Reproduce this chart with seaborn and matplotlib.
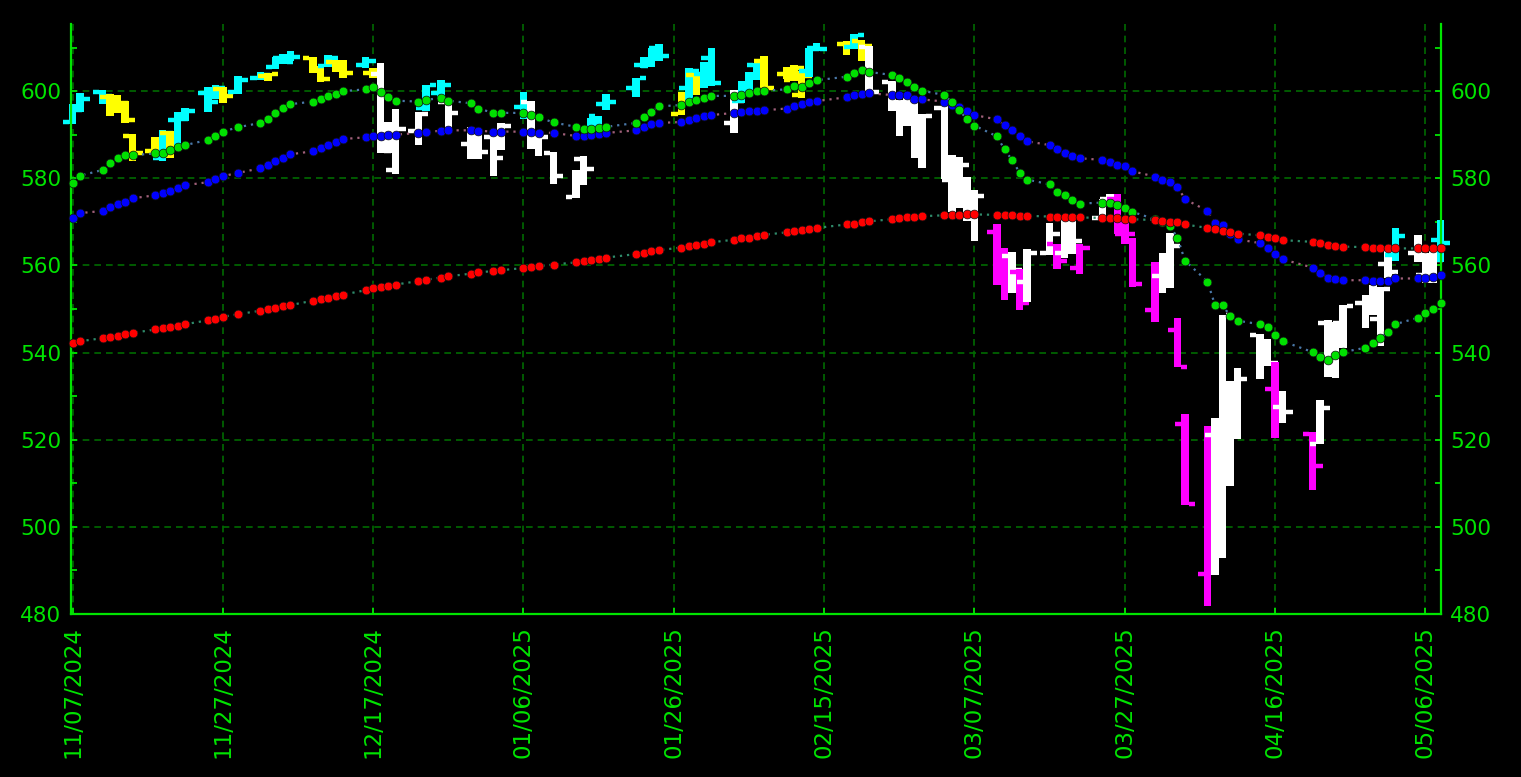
import matplotlib
matplotlib.use("Agg")
import matplotlib.pyplot as plt
import numpy as np
import pandas as pd
import seaborn as sns

# ---------------- data ----------------
dates = [
    "11/07/2024", "11/08/2024", "11/11/2024", "11/12/2024", "11/13/2024", "11/14/2024", "11/15/2024",
    "11/18/2024", "11/19/2024", "11/20/2024", "11/21/2024", "11/22/2024", "11/25/2024", "11/26/2024",
    "11/27/2024", "11/29/2024",
    "12/02/2024", "12/03/2024", "12/04/2024", "12/05/2024", "12/06/2024", "12/09/2024", "12/10/2024",
    "12/11/2024", "12/12/2024", "12/13/2024", "12/16/2024", "12/17/2024", "12/18/2024", "12/19/2024",
    "12/20/2024", "12/23/2024", "12/24/2024", "12/26/2024", "12/27/2024", "12/30/2024", "12/31/2024",
    "01/02/2025", "01/03/2025", "01/06/2025", "01/07/2025", "01/08/2025", "01/10/2025", "01/13/2025",
    "01/14/2025", "01/15/2025", "01/16/2025", "01/17/2025", "01/21/2025", "01/22/2025", "01/23/2025",
    "01/24/2025", "01/27/2025", "01/28/2025", "01/29/2025", "01/30/2025", "01/31/2025",
    "02/03/2025", "02/04/2025", "02/05/2025", "02/06/2025", "02/07/2025", "02/10/2025", "02/11/2025",
    "02/12/2025", "02/13/2025", "02/14/2025", "02/18/2025", "02/19/2025", "02/20/2025", "02/21/2025",
    "02/24/2025", "02/25/2025", "02/26/2025", "02/27/2025", "02/28/2025",
    "03/03/2025", "03/04/2025", "03/05/2025", "03/06/2025", "03/07/2025", "03/10/2025", "03/11/2025",
    "03/12/2025", "03/13/2025", "03/14/2025", "03/17/2025", "03/18/2025", "03/19/2025", "03/20/2025",
    "03/21/2025", "03/24/2025", "03/25/2025", "03/26/2025", "03/27/2025", "03/28/2025", "03/31/2025",
    "04/01/2025", "04/02/2025", "04/03/2025", "04/04/2025", "04/07/2025", "04/08/2025", "04/09/2025",
    "04/10/2025", "04/11/2025", "04/14/2025", "04/15/2025", "04/16/2025", "04/17/2025", "04/21/2025",
    "04/22/2025", "04/23/2025", "04/24/2025", "04/25/2025", "04/28/2025", "04/29/2025", "04/30/2025",
    "05/01/2025", "05/02/2025", "05/05/2025", "05/06/2025", "05/07/2025", "05/08/2025",
]

opens = [
    592.9, 596.2, 599.8, 598.7, 597.4, 597.3, 589.7, 586.2, 584.7, 590.4, 593.4, 593.7, 599.5, 598.8, 600.5, 599.7,
    603.0, 603.4, 605.6, 607.7, 607.4, 607.7, 605.4, 605.8, 606.6, 606.4, 606.0, 604.2, 604.0, 591.4, 581.8,
    590.9, 596.1, 599.5, 597.5, 587.9, 589.9,
    589.4, 587.5, 596.3, 597.4, 588.7, 585.9, 575.8, 584.4, 590.3, 594.2, 597.0, 600.7, 605.9, 605.8, 609.8,
    594.8, 600.6, 603.7, 604.0, 607.5,
    592.7, 597.8, 600.6, 606.0, 606.9, 604.0, 602.6, 599.2, 604.5, 609.9, 610.9, 610.1, 611.5, 610.2,
    602.0, 597.2, 595.9, 596.9, 585.6,
    596.2, 579.7, 576.7, 575.5, 570.9, 567.6, 559.4, 562.2, 558.5, 556.1, 562.8, 564.8, 562.8, 563.3,
    559.3, 570.8, 575.3, 575.2, 567.2, 565.5, 549.8,
    557.5, 555.1, 545.1, 523.7, 489.2, 521.0, 493.4, 532.2, 523.0, 544.1, 539.7, 531.7, 527.6, 521.2,
    519.1, 546.7, 536.0, 546.7, 551.4, 548.9, 547.6,
    560.4, 562.5, 562.9, 557.7, 560.0, 565.9,
]
highs = [
    597.0, 599.6, 600.2, 599.3, 599.2, 597.8, 590.2, 589.5, 591.0, 590.8, 595.1, 596.2, 600.9, 601.3, 600.9, 603.4,
    604.3, 604.2, 607.9, 608.5, 609.1, 607.9, 605.8, 608.4, 607.2, 607.2, 607.8, 605.2, 606.4, 593.0, 595.8,
    595.3, 601.3, 602.5, 597.8, 591.7, 590.6,
    591.1, 592.6, 599.7, 597.8, 590.6, 586.0, 581.8, 585.0, 593.9, 594.4, 599.4, 603.1, 607.8, 609.8, 610.8,
    599.7, 605.4, 604.1, 606.6, 610.0,
    600.3, 602.3, 604.4, 606.5, 608.1, 605.5, 605.9, 604.6, 609.9, 611.0, 611.5, 613.2, 611.7, 610.3,
    602.4, 597.9, 599.6, 598.0, 594.7,
    597.3, 585.4, 584.9, 580.2, 577.4, 569.5, 564.0, 563.1, 559.1, 563.8, 569.7, 565.0, 571.0, 570.6,
    564.9, 575.2, 576.4, 576.3, 570.9, 566.3, 560.7,
    562.9, 567.4, 548.0, 525.9, 523.2, 525.0, 548.6, 533.5, 536.4, 544.3, 543.2, 537.9, 531.2, 521.7,
    529.0, 547.5, 546.9, 550.8, 553.1, 555.5, 555.0,
    564.0, 568.5, 566.9, 562.9, 563.4, 570.4,
]
lows = [
    592.4, 595.2, 597.0, 594.4, 595.0, 592.7, 583.9, 585.3, 584.0, 584.6, 587.5, 593.2, 595.2, 598.1, 597.3, 599.4,
    602.5, 602.3, 605.0, 606.3, 607.0, 604.1, 602.1, 605.5, 604.3, 602.9, 605.2, 602.9, 585.9, 585.9, 580.9,
    587.7, 595.5, 598.1, 590.8, 584.4, 584.4,
    580.5, 586.4, 593.6, 586.8, 585.2, 578.6, 575.4, 578.4, 589.2, 590.9, 595.6, 598.7, 605.4, 605.5, 606.8,
    594.6, 597.3, 599.2, 600.7, 601.1,
    590.5, 597.3, 598.6, 602.6, 600.1, 602.7, 602.4, 598.5, 603.2, 609.1, 608.4, 609.6, 606.9, 599.5,
    595.5, 589.6, 591.9, 584.7, 582.4,
    579.9, 572.3, 573.1, 570.1, 565.6, 555.6, 552.0, 553.7, 549.7, 551.5, 562.4, 559.1, 561.6, 562.6,
    558.0, 570.2, 573.7, 567.2, 564.9, 555.1, 546.9,
    553.7, 554.8, 536.7, 505.1, 481.8, 489.0, 492.8, 509.3, 520.1, 533.9, 537.0, 520.3, 523.9, 508.5,
    518.9, 534.3, 534.1, 541.0, 545.6, 548.6, 541.5,
    557.2, 561.0, 560.7, 556.0, 556.0, 560.7,
]
closes = [
    595.6, 598.2, 598.8, 596.9, 597.2, 593.4, 585.8, 588.2, 590.3, 590.5, 593.7, 595.5, 597.5, 600.7, 598.8, 602.6,
    603.6, 603.9, 607.7, 606.7, 607.8, 604.7, 602.8, 607.5, 604.3, 604.2, 606.8, 604.3, 586.3, 586.1, 591.2,
    594.7, 601.3, 601.3, 595.0, 588.2, 586.1,
    584.6, 592.0, 595.4, 588.6, 589.5, 580.5, 581.4, 582.2, 592.8, 591.6, 597.6, 603.1, 606.4, 609.8, 608.0,
    599.4, 604.5, 601.8, 605.0, 601.8,
    597.8, 601.8, 604.2, 606.3, 600.8, 604.9, 605.3, 603.4, 609.7, 609.7, 611.5, 612.9, 610.4, 599.9,
    597.2, 594.2, 594.5, 585.1, 594.2,
    583.8, 576.9, 583.1, 572.7, 575.9, 560.6, 555.9, 558.9, 551.4, 562.8, 567.2, 561.0, 567.1, 565.5,
    564.0, 574.1, 575.5, 568.6, 567.1, 555.7, 559.4,
    561.0, 564.5, 536.7, 505.3, 504.4, 496.5, 548.6, 524.6, 533.9, 539.1, 537.6, 525.7, 526.4, 513.9,
    527.3, 535.4, 546.7, 550.6, 550.9, 554.3, 554.5,
    558.5, 566.8, 563.5, 558.8, 561.2, 565.1,
]
# bar colour class: C = cyan, Y = yellow, W = white, M = magenta
bar_class = (
    list("CCCYYYYYCYCCCCYC")
    + list("CYCCCYYCYYCYWWWWCCWWW")
    + list("WWCWWWWWCCCCCCCYCYCC")
    + list("WCCCYYYYCCYCYWWWWWW")
    + list("WWWWWMMWMWWMWWMWWMMMM")
    + list("WWMMMWWWWWWMWMWWWWWWW")
    + list("WCWWWC")
)

ma20 = [
    578.8, 580.6, 581.9, 583.4, 584.6, 585.3, 585.3, 585.7, 585.9, 586.5, 587.1, 587.6, 588.8, 589.8, 590.7, 591.7,
    592.7, 593.5, 594.9, 596.1, 597.0, 597.6, 598.1, 598.9, 599.3, 600.0, 600.4, 600.9, 599.7, 598.7, 597.8,
    597.6, 598.0, 598.4, 597.8, 597.2, 596.0,
    595.0, 595.0, 595.0, 594.5, 594.0, 592.8, 591.8, 591.2, 591.2, 591.6, 591.8, 592.7, 594.0, 595.3, 596.5,
    596.8, 597.6, 598.0, 598.4, 598.9,
    598.9, 599.1, 599.5, 600.0, 600.1, 600.4, 601.2, 601.0, 601.8, 602.5, 603.3, 604.2, 604.8, 604.4,
    603.7, 602.9, 602.2, 601.0, 600.1,
    599.1, 597.4, 595.6, 593.5, 592.1, 589.6, 586.6, 584.2, 581.3, 579.7, 578.6, 576.9, 576.1, 575.1,
    574.2, 574.4, 574.4, 573.8, 573.2, 572.3, 570.6,
    570.0, 569.0, 566.4, 561.1, 556.3, 550.9, 550.9, 548.4, 547.3, 546.5, 545.9, 544.0, 542.6, 540.1,
    539.0, 538.4, 539.4, 540.1, 541.1, 542.1, 543.3,
    544.8, 546.5, 548.0, 549.0, 550.1, 551.3,
]
ma50 = [
    570.9, 572.0, 572.5, 573.3, 574.0, 574.6, 575.4, 576.1, 576.6, 577.1, 577.7, 578.4, 579.1, 579.8, 580.5, 581.2,
    582.3, 583.1, 583.9, 584.7, 585.5, 586.2, 586.9, 587.6, 588.3, 589.0, 589.4, 589.6, 589.8, 589.9, 590.0,
    590.4, 590.6, 590.9, 591.0, 591.0, 590.9,
    590.7, 590.7, 590.7, 590.6, 590.5, 590.4, 589.7, 589.8, 590.0, 590.2, 590.4, 591.0, 591.7, 592.4, 592.7,
    592.9, 593.3, 593.8, 594.2, 594.5,
    595.0, 595.2, 595.4, 595.5, 595.6, 596.0, 596.5, 597.0, 597.4, 597.7, 598.6, 599.0, 599.3, 599.5,
    599.1, 599.1, 599.1, 598.3, 598.1,
    597.6, 596.8, 596.4, 595.5, 594.5, 593.5, 592.2, 591.1, 589.7, 588.5, 587.6, 586.6, 585.9, 585.1,
    584.6, 584.2, 583.8, 583.0, 582.8, 581.6, 580.4,
    579.6, 579.2, 578.1, 575.2, 572.5, 569.7, 569.3, 567.2, 566.0, 565.1, 564.0, 562.6, 561.4, 559.5,
    558.3, 557.2, 556.9, 556.6, 556.6, 556.4, 556.4,
    556.4, 557.0, 557.0, 557.0, 557.4, 557.8,
]
ma200 = [
    542.2, 542.6, 543.3, 543.6, 543.9, 544.2, 544.5, 545.3, 545.6, 545.9, 546.2, 546.5, 547.4, 547.8, 548.2, 548.8,
    549.6, 549.9, 550.3, 550.6, 550.9, 551.9, 552.3, 552.6, 553.0, 553.3, 554.3, 554.7, 555.0, 555.3, 555.6,
    556.4, 556.7, 557.2, 557.5, 558.1, 558.4,
    558.7, 558.9, 559.4, 559.6, 559.8, 560.2, 560.7, 560.9, 561.2, 561.5, 561.8, 562.6, 562.9, 563.2, 563.5,
    564.1, 564.4, 564.7, 565.0, 565.3,
    565.9, 566.2, 566.4, 566.7, 567.0, 567.6, 567.9, 568.1, 568.4, 568.6, 569.4, 569.6, 569.9, 570.1,
    570.6, 570.8, 571.0, 571.1, 571.3,
    571.5, 571.6, 571.6, 571.7, 571.7, 571.6, 571.5, 571.5, 571.4, 571.4, 571.2, 571.1, 571.1, 571.0,
    571.0, 570.9, 570.9, 570.8, 570.7, 570.6, 570.4,
    570.2, 570.0, 570.0, 569.4, 568.6, 568.3, 568.0, 567.7, 567.3, 566.9, 566.6, 566.2, 565.8, 565.4,
    565.1, 564.7, 564.4, 564.3, 564.2, 564.0, 563.9,
    563.9, 563.9, 563.9, 563.9, 563.9, 563.9,
]

tick_dates = ["11/07/2024", "11/27/2024", "12/17/2024", "01/06/2025", "01/26/2025",
              "02/15/2025", "03/07/2025", "03/27/2025", "04/16/2025", "05/06/2025"]
y_major = [480, 500, 520, 540, 560, 580, 600]

# ---------------- styling ----------------
sns.set_theme(style="dark")
plt.rcParams["font.family"] = ["DejaVu Sans"]
GREEN_TXT = "#00e400"
GRID = "#006a00"
bar_colors = {"C": "#00ffff", "Y": "#ffff00", "W": "#ffffff", "M": "#ff00ff"}

W, H = 1521, 777
fig = plt.figure(figsize=(W / 100, H / 100), dpi=100, facecolor="black")
ax = fig.add_axes([71 / W, 1 - 614 / H, (1440.5 - 71) / W, (614 - 24) / H])
ax.set_facecolor("black")

t0 = pd.Timestamp("2024-11-07")
day = (pd.to_datetime(pd.Series(dates), format="%m/%d/%Y") - t0).dt.days.to_numpy().astype(float)
tick_pos = (pd.to_datetime(pd.Series(tick_dates), format="%m/%d/%Y") - t0).dt.days.to_numpy()

df = pd.DataFrame({"day": day, "open": opens, "high": highs, "low": lows, "close": closes,
                   "cls": bar_class, "ma20": ma20, "ma50": ma50, "ma200": ma200})

# grid
for tp in tick_pos:
    ax.axvline(tp, color=GRID, lw=1.2, ls=(0, (4, 3)), zorder=0.5)
for yv in y_major[1:]:
    ax.axhline(yv, color=GRID, lw=1.2, ls=(0, (4, 3)), zorder=0.5)

# OHLC bars (body spans low-high, open tick left, close tick right)
bw = 1.0
tk = 0.82
for i, r in df.iterrows():
    c = bar_colors[r["cls"]]
    z = 2 + i * 0.001
    ax.bar(r["day"], r["high"] - r["low"], bottom=r["low"], width=bw, color=c,
           linewidth=0, zorder=z, clip_on=False)
    ax.hlines(r["open"], r["day"] - bw / 2 - tk, r["day"] - bw / 2, color=c, lw=3.2,
              zorder=z, clip_on=False, capstyle="butt")
    ax.hlines(r["close"], r["day"] + bw / 2, r["day"] + bw / 2 + tk, color=c, lw=3.2,
              zorder=z, clip_on=False, capstyle="butt")

# moving averages: dotted connectors + dots
ma_specs = [("ma50", "#0000ff", "#a0607a", 3.0),
            ("ma20", "#00e000", "#4a78a8", 3.2),
            ("ma200", "#ff0000", "#2f8a6a", 3.4)]
for col, dot_c, line_c, z in ma_specs:
    sns.lineplot(data=df, x="day", y=col, ax=ax, color=line_c, linewidth=1.6,
                 linestyle=(0, (1, 2.2)), zorder=z, sort=True, estimator=None)
    sns.scatterplot(data=df, x="day", y=col, ax=ax, color=dot_c, s=40, edgecolor="#101010",
                    linewidth=0.5, zorder=z + 0.05, legend=False, clip_on=False)

# axes
ax.set_xlim(-0.2, 182.0)
ax.set_ylim(480, 615.4)
ax.set_xlabel("")
ax.set_ylabel("")
ax.set_xticks(tick_pos)
ax.set_xticklabels(tick_dates, rotation=90)
ax.set_yticks(y_major)
ax.set_yticks(np.arange(490, 615, 10), minor=True)
ax.grid(False)

for s in ["left", "right", "bottom"]:
    ax.spines[s].set_visible(True)
    ax.spines[s].set_color(GREEN_TXT)
    ax.spines[s].set_linewidth(1.6)
ax.spines["top"].set_visible(False)

ax.tick_params(axis="y", which="both", direction="in", left=True, right=True,
               labelleft=True, labelright=True, colors=GREEN_TXT, length=4.5, width=1.3,
               labelsize=15.5, pad=7)
ax.tick_params(axis="x", which="both", direction="in", bottom=True, top=False,
               colors=GREEN_TXT, length=4.5, width=1.3, labelsize=16.5, pad=9)
for lab in ax.get_xticklabels():
    lab.set_verticalalignment("top")

fig.savefig("out.png", dpi=100, facecolor="black")
